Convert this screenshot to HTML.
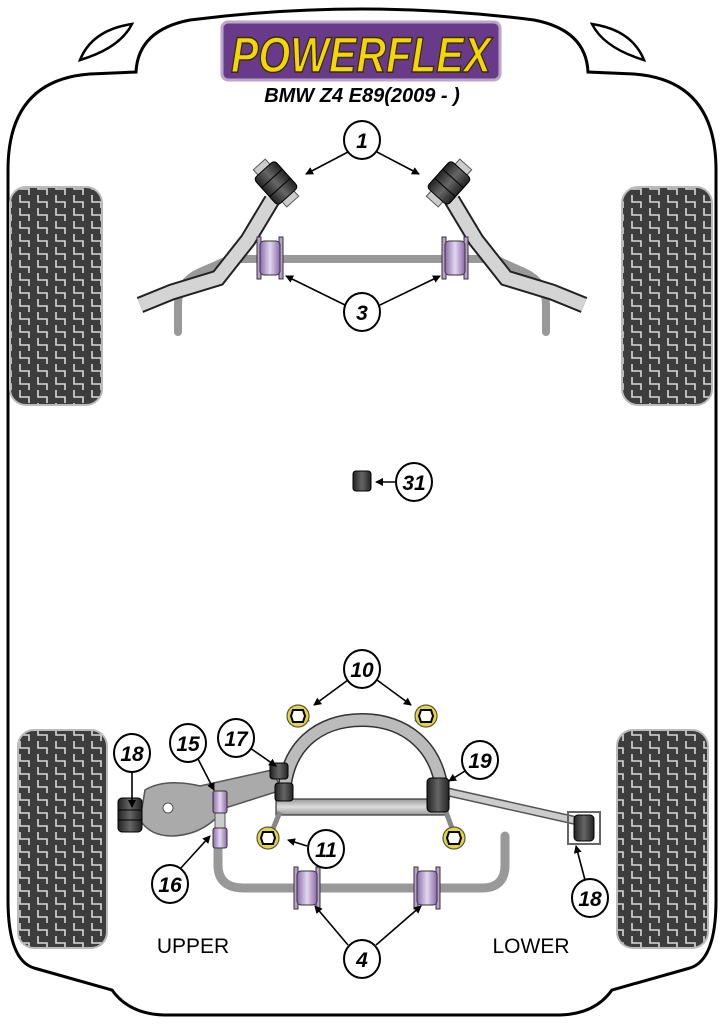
<!DOCTYPE html>
<html><head><meta charset="utf-8"><style>
html,body{margin:0;padding:0;background:#fff;}
svg{display:block;}
text{font-family:"Liberation Sans",sans-serif;}
.n{font-weight:bold;font-style:italic;font-size:21px;text-anchor:middle;}
</style></head><body>
<svg width="724" height="1024" viewBox="0 0 724 1024" xmlns="http://www.w3.org/2000/svg">
<defs>
<pattern id="tread" width="18" height="13" patternUnits="userSpaceOnUse">
<rect width="18" height="13" fill="#3d3d3d"/>
<path d="M2 0 V7 H11 V13" fill="none" stroke="#d8d8d8" stroke-width="1.6"/>
</pattern>
<marker id="ar" markerWidth="8" markerHeight="8" refX="7" refY="4" orient="auto" markerUnits="userSpaceOnUse">
<path d="M0 0 L8 4 L0 8 z" fill="#000"/>
</marker>
<linearGradient id="pur" x1="0" x2="1"><stop offset="0" stop-color="#8a6aa8"/><stop offset="0.5" stop-color="#e4d8f0"/><stop offset="1" stop-color="#8a6aa8"/></linearGradient>
<linearGradient id="blk" x1="0" x2="1"><stop offset="0" stop-color="#222"/><stop offset="0.5" stop-color="#666"/><stop offset="1" stop-color="#222"/></linearGradient>
<linearGradient id="gry" x1="0" y1="0" x2="0" y2="1"><stop offset="0" stop-color="#999"/><stop offset="0.5" stop-color="#ddd"/><stop offset="1" stop-color="#999"/></linearGradient>
<g id="pb"><rect x="-13" y="-21" width="4" height="42" fill="#b8a0d0" stroke="#333" stroke-width="1"/><rect x="9" y="-21" width="4" height="42" fill="#b8a0d0" stroke="#333" stroke-width="1"/><rect x="-10" y="-17" width="20" height="34" rx="4" fill="url(#pur)" stroke="#333" stroke-width="1"/></g>
<g id="db"><rect x="-14" y="-18" width="28" height="36" rx="4" fill="url(#blk)" stroke="#000" stroke-width="1"/><line x1="-14" y1="-6" x2="14" y2="-6" stroke="#000"/><line x1="-14" y1="6" x2="14" y2="6" stroke="#000"/></g>
<g id="mt"><circle r="11" fill="#e6d830" stroke="#555" stroke-width="1.2"/><polygon points="-5,-6 5,-6 7,0 5,6 -5,6 -7,0" fill="#fff" stroke="#000" stroke-width="2"/></g>
</defs>

<!-- body outline -->
<path d="M8 900 L8 170 Q8 80 90 74 L136 72 Q138 30 190 20 Q362 -2 534 20 Q586 30 588 72 L634 74 Q716 80 716 170 L716 900 Q716 960 690 968 L612 990 Q595 1014 560 1015 L164 1015 Q129 1014 112 990 L34 968 Q8 960 8 900 z" fill="none" stroke="#000" stroke-width="3"/>
<path d="M80 60 Q92 30 132 24 Q120 48 80 60 z" fill="#fff" stroke="#000" stroke-width="2.5"/>
<path d="M644 60 Q632 30 592 24 Q604 48 644 60 z" fill="#fff" stroke="#000" stroke-width="2.5"/>

<!-- tyres -->
<rect x="10" y="187" width="92" height="218" rx="16" fill="url(#tread)" stroke="#bbb" stroke-width="2"/>
<rect x="622" y="187" width="90" height="218" rx="16" fill="url(#tread)" stroke="#bbb" stroke-width="2"/>
<rect x="18" y="730" width="89" height="218" rx="16" fill="url(#tread)" stroke="#bbb" stroke-width="2"/>
<rect x="617" y="730" width="91" height="218" rx="16" fill="url(#tread)" stroke="#bbb" stroke-width="2"/>

<!-- logo -->
<rect x="222" y="22" width="278" height="58" rx="6" fill="#6a3a8a" stroke="#b9a6c8" stroke-width="3"/>
<text x="361" y="72" text-anchor="middle" font-size="50" font-weight="bold" font-style="italic" fill="#f2d800" stroke="#3a2a10" stroke-width="1.5" textLength="260" lengthAdjust="spacingAndGlyphs">POWERFLEX</text>
<text x="362" y="102" text-anchor="middle" font-size="20" font-weight="bold" font-style="italic">BMW Z4 E89(2009 - )</text>

<!-- front anti-roll bar -->
<path d="M178 332 L178 305 Q178 282 200 272 L230 259 L495 259 L524 272 Q546 282 546 305 L546 332" fill="none" stroke="#999" stroke-width="8" stroke-linecap="round"/>
<!-- front arms -->
<path d="M272 200 L248 240 L218 278 L172 292 L140 305" fill="none" stroke="#222" stroke-width="17" stroke-linejoin="miter"/>
<path d="M272 200 L248 240 L218 278 L172 292 L140 305" fill="none" stroke="#d4d4d4" stroke-width="13" stroke-linejoin="miter"/>
<path d="M452 200 L476 240 L506 278 L552 292 L584 305" fill="none" stroke="#222" stroke-width="17"/>
<path d="M452 200 L476 240 L506 278 L552 292 L584 305" fill="none" stroke="#d4d4d4" stroke-width="13"/>
<g transform="translate(276,183) rotate(-42)"><rect x="-8" y="-25" width="16" height="50" fill="#ccc" stroke="#555"/><use href="#db"/></g>
<g transform="translate(449,183) rotate(42)"><rect x="-8" y="-25" width="16" height="50" fill="#ccc" stroke="#555"/><use href="#db"/></g>
<use href="#pb" x="270" y="258"/>
<use href="#pb" x="455" y="258"/>

<!-- 31 -->
<g transform="translate(362,481)"><rect x="-9" y="-10" width="18" height="20" rx="3" fill="url(#blk)" stroke="#000"/></g>

<!-- rear subframe -->
<path d="M284 800 C284 745 320 720 362 720 C404 720 440 745 443 800" fill="none" stroke="#333" stroke-width="14"/>
<path d="M284 800 C284 745 320 720 362 720 C404 720 440 745 443 800" fill="none" stroke="#bbb" stroke-width="11"/>
<rect x="276" y="799" width="172" height="16" fill="url(#gry)" stroke="#333" stroke-width="1.2"/>
<path d="M280 812 L270 836 M446 812 L455 836" stroke="#888" stroke-width="5"/>
<path d="M308 722 L303 712 M416 722 L421 712" stroke="#888" stroke-width="4"/>
<use href="#mt" x="298" y="716"/><use href="#mt" x="426" y="716"/>
<use href="#mt" x="268" y="838"/><use href="#mt" x="454" y="838"/>

<!-- rear anti-roll bar -->
<path d="M218 838 L218 865 Q218 888 244 888 L482 888 Q505 888 505 865 L505 836" fill="none" stroke="#999" stroke-width="9" stroke-linecap="round"/>
<use href="#pb" x="307" y="888"/><use href="#pb" x="427" y="888"/>

<!-- upper arm left -->
<path d="M145 790 Q165 778 200 786 L272 770 L282 790 L225 808 Q205 835 172 836 Q150 836 140 820 z" fill="#aaa" stroke="#555" stroke-width="1.5"/>
<circle cx="168" cy="808" r="5" fill="#fff" stroke="#555"/>
<rect x="215" y="805" width="10" height="32" fill="#ccc" stroke="#555"/>
<g transform="translate(130,815)"><rect x="-12" y="-17" width="24" height="34" rx="4" fill="url(#blk)" stroke="#000"/><line x1="-12" y1="-5" x2="12" y2="-5" stroke="#000"/><line x1="-12" y1="5" x2="12" y2="5" stroke="#000"/></g>
<g transform="translate(220,802)"><rect x="-7" y="-11" width="14" height="22" rx="2" fill="url(#pur)" stroke="#333"/></g>
<g transform="translate(220,838)"><rect x="-7" y="-10" width="14" height="20" rx="2" fill="url(#pur)" stroke="#333"/></g>
<g transform="translate(279,771)"><rect x="-9" y="-8" width="18" height="16" rx="3" fill="url(#blk)" stroke="#000"/></g>
<g transform="translate(284,792)"><rect x="-9" y="-9" width="18" height="18" rx="3" fill="url(#blk)" stroke="#000"/></g>

<!-- lower arm right -->
<path d="M448 792 L582 822" stroke="#555" stroke-width="9"/>
<path d="M448 792 L582 822" stroke="#ccc" stroke-width="6"/>
<g transform="translate(438,795)"><rect x="-11" y="-17" width="22" height="34" rx="4" fill="url(#blk)" stroke="#000"/></g>
<g transform="translate(584,828)"><rect x="-16" y="-16" width="32" height="32" fill="none" stroke="#666" stroke-width="2"/><rect x="-10" y="-13" width="20" height="26" rx="4" fill="url(#blk)" stroke="#000"/></g>

<!-- arrows -->
<g stroke="#000" stroke-width="1.6" marker-end="url(#ar)">
<line x1="348" y1="152" x2="306" y2="174"/><line x1="377" y1="152" x2="419" y2="174"/>
<line x1="345" y1="305" x2="286" y2="276"/><line x1="380" y1="305" x2="440" y2="276"/>
<line x1="395" y1="482" x2="376" y2="482"/>
<line x1="348" y1="680" x2="314" y2="705"/><line x1="377" y1="680" x2="411" y2="705"/>
<line x1="250" y1="748" x2="276" y2="766"/>
<line x1="197" y1="757" x2="214" y2="790"/>
<line x1="132" y1="772" x2="132" y2="807"/>
<line x1="465" y1="771" x2="449" y2="781"/>
<line x1="307" y1="846" x2="288" y2="840"/>
<line x1="180" y1="869" x2="210" y2="836"/>
<line x1="585" y1="880" x2="576" y2="846"/>
<line x1="348" y1="945" x2="315" y2="906"/><line x1="376" y1="945" x2="421" y2="906"/>
</g>

<!-- callouts -->
<g fill="#fff" stroke="#000" stroke-width="2">
<ellipse cx="362" cy="140" rx="18" ry="19"/>
<ellipse cx="362" cy="312" rx="18" ry="19"/>
<ellipse cx="414" cy="482" rx="18" ry="19"/>
<ellipse cx="362" cy="669" rx="18" ry="19"/>
<ellipse cx="236" cy="738" rx="18" ry="19"/>
<ellipse cx="188" cy="743" rx="18" ry="19"/>
<ellipse cx="132" cy="753" rx="18" ry="19"/>
<ellipse cx="480" cy="760" rx="18" ry="19"/>
<ellipse cx="326" cy="849" rx="18" ry="19"/>
<ellipse cx="170" cy="884" rx="18" ry="19"/>
<ellipse cx="590" cy="898" rx="18" ry="19"/>
<ellipse cx="362" cy="959" rx="18" ry="19"/>
</g>
<g class="n">
<text class="n" x="362" y="148">1</text>
<text class="n" x="362" y="320">3</text>
<text class="n" x="414" y="490">31</text>
<text class="n" x="362" y="677">10</text>
<text class="n" x="236" y="746">17</text>
<text class="n" x="188" y="751">15</text>
<text class="n" x="132" y="761">18</text>
<text class="n" x="480" y="768">19</text>
<text class="n" x="326" y="857">11</text>
<text class="n" x="170" y="892">16</text>
<text class="n" x="590" y="906">18</text>
<text class="n" x="362" y="967">4</text>
</g>

<text x="193" y="953" text-anchor="middle" font-size="21">UPPER</text>
<text x="531" y="953" text-anchor="middle" font-size="21">LOWER</text>
</svg>
</body></html>
